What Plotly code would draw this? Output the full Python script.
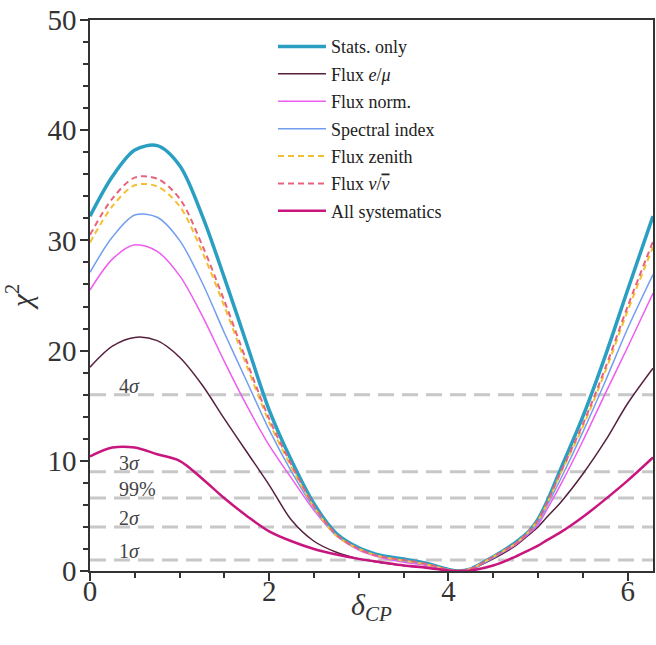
import math
import plotly.graph_objects as go

# delta_CP grid (radians)
delta_cp = [0.0, 0.25, 0.5, 0.75, 1.0, 1.25, 1.5, 1.75, 2.0, 2.25, 2.5, 2.75,
            3.0, 3.25, 3.5, 3.75, 4.0, 4.1, 4.25, 4.5, 4.75, 4.9, 5.0, 5.1,
            5.25, 5.5, 5.75, 6.0, 2 * math.pi]

stats_only = [32.2, 35.8, 38.2, 38.6, 36.8, 32.3, 26.6, 20.6, 14.6, 10.0, 6.1, 3.4,
              2.1, 1.4, 1.1, 0.7, 0.15, 0.0, 0.2, 1.3, 2.6, 3.6, 4.7, 6.3,
              9.2, 14.0, 19.5, 25.5, 32.2]
flux_emu = [18.5, 20.4, 21.2, 20.9, 19.4, 16.9, 13.8, 10.8, 7.8, 4.6, 2.7, 1.7,
            1.1, 0.75, 0.5, 0.35, 0.05, 0.0, 0.2, 1.1, 2.3, 3.3, 4.0, 4.9,
            6.2, 8.8, 11.8, 15.2, 18.4]
flux_norm = [25.5, 28.3, 29.6, 29.0, 26.8, 23.2, 19.0, 15.0, 11.4, 8.4, 5.5, 3.2,
             1.9, 1.2, 0.8, 0.5, 0.1, 0.0, 0.2, 1.2, 2.4, 3.4, 4.2, 5.6,
             7.8, 11.8, 16.1, 20.3, 25.2]
spectral_index = [27.1, 30.3, 32.3, 32.1, 30.0, 26.2, 21.6, 17.2, 12.8, 9.0, 5.7, 3.2,
                  2.0, 1.3, 0.9, 0.6, 0.1, 0.0, 0.2, 1.2, 2.5, 3.5, 4.4, 5.9,
                  8.3, 12.6, 17.2, 22.0, 26.9]
flux_zenith = [29.8, 33.1, 35.0, 34.9, 33.1, 29.0, 24.0, 18.6, 13.5, 9.4, 5.8, 3.2,
               2.0, 1.3, 0.95, 0.6, 0.12, 0.0, 0.2, 1.3, 2.5, 3.6, 4.6, 6.1,
               8.8, 13.1, 18.1, 23.6, 29.4]
flux_nunubar = [30.5, 33.8, 35.7, 35.6, 33.8, 29.6, 24.5, 19.0, 13.8, 9.6, 5.9, 3.3,
                2.0, 1.3, 1.0, 0.65, 0.12, 0.0, 0.2, 1.3, 2.5, 3.6, 4.6, 6.2,
                8.9, 13.3, 18.4, 24.0, 29.9]
all_systematics = [10.4, 11.2, 11.2, 10.6, 10.0, 8.4, 6.6, 5.0, 3.6, 2.7, 2.0, 1.5,
                   1.1, 0.8, 0.5, 0.3, 0.05, 0.0, 0.05, 0.5, 1.3, 1.9, 2.3, 2.8,
                   3.5, 4.9, 6.5, 8.2, 10.3]

# Confidence levels for the reference lines
cl_values = [1.0, 4.0, 6.63, 9.0, 16.0]
cl_labels = ["1<i>σ</i>", "2<i>σ</i>", "99%", "3<i>σ</i>", "4<i>σ</i>"]

series = [
    ("Stats. only", stats_only, "#2a9fc2", 3.5, "solid"),
    ("Flux <i>e</i>/<i>μ</i>", flux_emu, "#55203f", 1.5, "solid"),
    ("Flux norm.", flux_norm, "#ef5cf0", 1.5, "solid"),
    ("Spectral index", spectral_index, "#729ef0", 1.5, "solid"),
    ("Flux zenith", flux_zenith, "#f3c034", 2, "dash"),
    ("Flux <i>ν</i>/<span style='text-decoration:overline'><i>ν</i></span>", flux_nunubar, "#e8627e", 2, "dash"),
    ("All systematics", all_systematics, "#c8167e", 2.5, "solid"),
]

FONT = "Liberation Serif"

fig = go.Figure()
for i, (name, vals, color, width, dash) in enumerate(series):
    fig.add_trace(go.Scatter(
        x=delta_cp, y=vals, mode="lines", name=name,
        legendgroup=f"g{i}",
        line=dict(color=color, width=width, dash=dash if dash == "solid" else "6px,4px",
                  shape="spline", smoothing=0.9),
    ))

for val, lab in zip(cl_values, cl_labels):
    fig.add_hline(y=val, line=dict(color="#c8c8c8", width=3, dash="16px,8px"), layer="below")
    fig.add_annotation(x=0.3, y=val, text=lab, showarrow=False, xanchor="left",
                       yanchor="bottom", yshift=-4,
                       font=dict(family=FONT, size=20, color="#444444"))

# x-axis title placed close under the tick labels
fig.add_annotation(x=0.5, y=-0.065, xref="paper", yref="paper", showarrow=False,
                   xanchor="center", yanchor="middle",
                   text="<i>δ</i><sub><i>CP</i></sub>",
                   font=dict(family=FONT, size=30, color="#333333"))

axis_common = dict(
    showline=True, linecolor="#333333", linewidth=1.5, mirror=True,
    ticks="outside", ticklen=8, tickwidth=1.5, tickcolor="#333333",
    showgrid=False, zeroline=False,
    tickfont=dict(family=FONT, size=29, color="#333333"),
)

fig.update_xaxes(range=[0, 2 * math.pi], tickvals=[0, 2, 4, 6],
                 ticklabelstandoff=-15,
                 minor=dict(dtick=0.5, tick0=0, ticks="outside", ticklen=5, tickwidth=1.5,
                            tickcolor="#333333"),
                 **axis_common)
fig.update_yaxes(range=[0, 50], tickvals=[0, 10, 20, 30, 40, 50],
                 ticklabelstandoff=-2,
                 minor=dict(dtick=2, tick0=0, ticks="outside", ticklen=5, tickwidth=1.5,
                            tickcolor="#333333"),
                 title=dict(text="<i>χ</i><sup>2</sup>",
                            font=dict(family=FONT, size=30, color="#333333"), standoff=10),
                 **axis_common)

fig.update_layout(
    width=656, height=645,
    margin=dict(l=90, r=1, t=20, b=74),
    paper_bgcolor="white", plot_bgcolor="white",
    showlegend=True,
    legend=dict(x=0.325, y=0.985, xanchor="left", yanchor="top",
                bgcolor="rgba(255,255,255,0.9)", borderwidth=0,
                font=dict(family=FONT, size=18, color="#222222"),
                itemwidth=48,
                tracegroupgap=1, traceorder="grouped"),
)

fig.write_html("out.html")
